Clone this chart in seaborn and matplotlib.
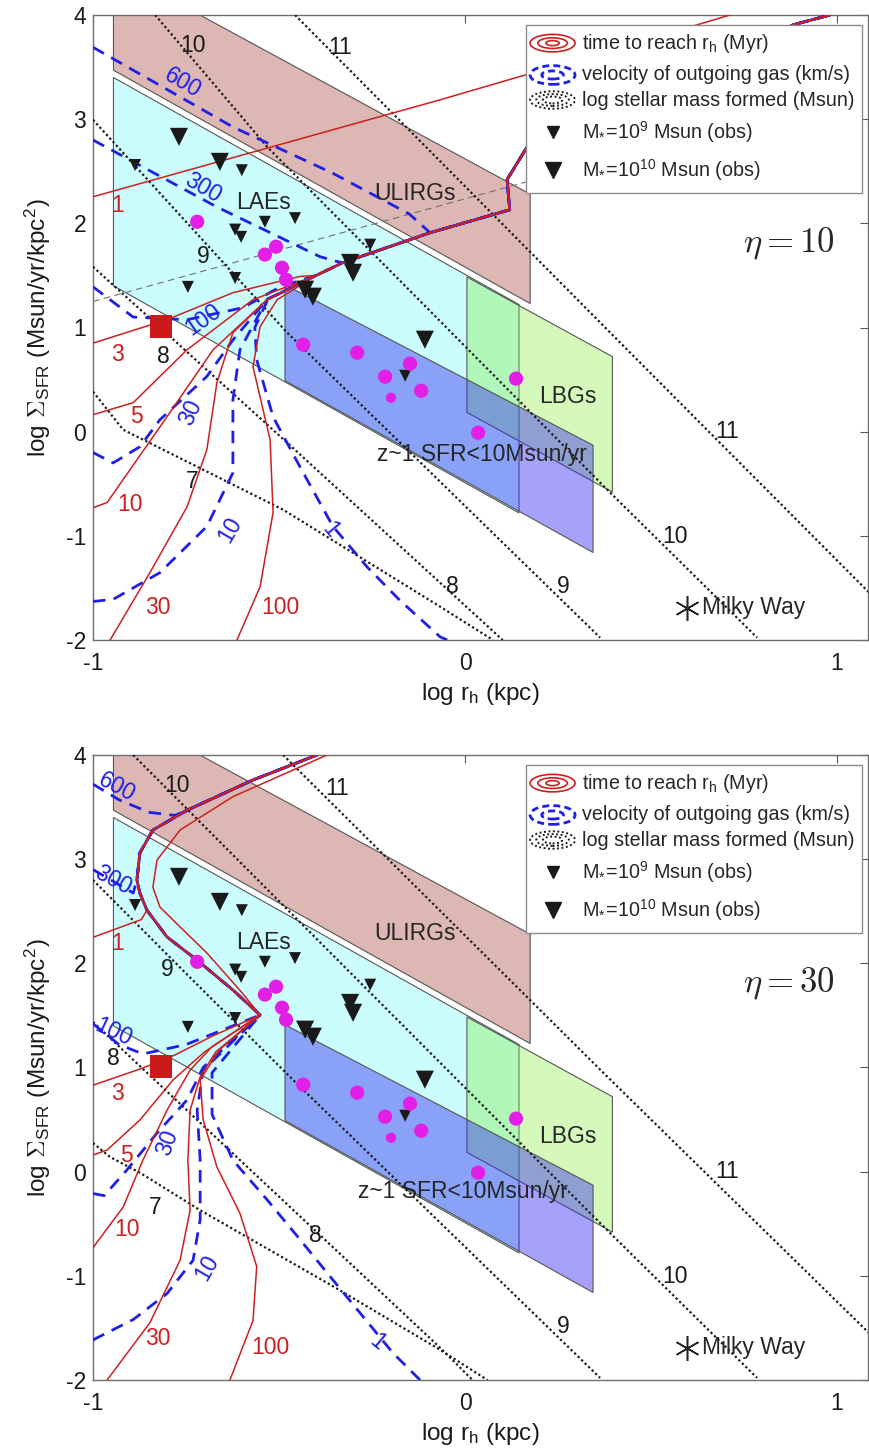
import matplotlib
matplotlib.use("Agg")
import matplotlib.pyplot as plt
from matplotlib.patches import Polygon, Rectangle, Ellipse
import seaborn as sns

RED = "#cc2020"
BLUE = "#1f1fe6"
MAG = "#e31ee6"

# ---- shaded regions (corners) ----
ulirg_x = [-0.945, 0.175, 0.175, -0.945]
ulirg_y = [3.47, 1.23, 2.28, 4.45]
lae_x = [-0.945, 0.145, 0.145, -0.945]
lae_y = [1.40, -0.78, 1.22, 3.40]
lbg_x = [0.005, 0.396, 0.396, 0.005]
lbg_y = [0.185, -0.58, 0.72, 1.485]
z1_x = [-0.484, 0.344, 0.344, -0.484]
z1_y = [0.49, -1.16, -0.13, 1.41]

# ---- observed galaxies ----
tri_small_x = [-0.887, -0.600, -0.745, -0.618, -0.538, -0.457, -0.618, -0.602, -0.255, -0.161]
tri_small_y = [2.56, 2.51, 1.39, 1.475, 2.015, 2.05, 1.94, 1.87, 1.795, 0.537]
tri_big_x = [-0.769, -0.659, -0.309, -0.301, -0.430, -0.409, -0.108]
tri_big_y = [2.83, 2.59, 1.62, 1.525, 1.363, 1.296, 0.883]
dots_x = [-0.720, -0.538, -0.508, -0.492, -0.481, -0.435, -0.290, -0.148, -0.215, -0.118, 0.137, 0.035]
dots_y = [2.015, 1.700, 1.776, 1.574, 1.459, 0.835, 0.758, 0.653, 0.528, 0.393, 0.509, -0.010]
dots_small_x = [-0.199]
dots_small_y = [0.326]
square_x, square_y = [-0.818], [1.01]
milky_x, milky_y = [0.597], [-1.69]

# ---- eta = 10 panel: curves (points, index where they join the shared bundle) ----
top_bundle = [(-0.40, 1.50), (-0.33, 1.62), (-0.094, 1.91), (0.12, 2.13), (0.113, 2.42),
              (0.167, 2.735), (0.52, 3.33), (0.882, 3.906), (0.981, 4.0)]
top_t1 = [(-1.0, 2.255), (-0.067, 3.186), (0.624, 3.906), (0.712, 4.0)]
top_t3 = [(-1.0, 0.85), (-0.801, 1.075), (-0.624, 1.334), (-0.444, 1.49)]
top_t5 = [(-1.0, 0.163), (-0.892, 0.278), (-0.747, 0.787), (-0.57, 1.267)]
top_t10 = [(-1.0, -0.73), (-0.962, -0.68), (-0.801, 0.144), (-0.677, 0.787), (-0.532, 1.267)]
top_t30 = [(-0.954, -2.0), (-0.847, -1.353), (-0.747, -0.72), (-0.694, -0.173), (-0.667, 0.47),
           (-0.624, 0.95), (-0.532, 1.267)]
top_t100 = [(-0.613, -2.0), (-0.551, -1.49), (-0.516, -0.777), (-0.524, -0.077), (-0.57, 0.624),
            (-0.551, 1.007), (-0.505, 1.267)]
top_v600 = [(-1.0, 3.69), (-0.624, 2.925), (-0.355, 2.48), (-0.15, 2.09)]
top_v300 = [(-1.0, 2.80), (-0.667, 2.157), (-0.39, 1.68)]
top_v100 = [(-1.0, 1.39), (-0.892, 1.10), (-0.747, 1.075), (-0.597, 1.19), (-0.497, 1.39)]
top_v30 = [(-1.0, -0.20), (-0.946, -0.30), (-0.874, -0.145), (-0.82, 0.115), (-0.694, 0.53),
           (-0.624, 0.88), (-0.532, 1.27)]
top_v10 = [(-1.0, -1.63), (-0.946, -1.61), (-0.82, -1.353), (-0.694, -0.91), (-0.624, -0.395),
           (-0.624, 0.307), (-0.605, 0.787), (-0.532, 1.27)]
top_v1 = [(-0.048, -2.0), (-0.067, -1.97), (-0.175, -1.62), (-0.263, -1.30), (-0.355, -0.91),
          (-0.444, -0.336), (-0.516, 0.142), (-0.56, 0.69), (-0.565, 1.0), (-0.53, 1.27)]
top_m7 = [(-1.0, 0.384), (-0.919, 0.019), (-0.489, -0.749), (-0.067, -1.68), (0.075, -2.0)]
top_m8 = [(-1.0, 1.583), (-0.478, -0.106), (0.101, -2.0)]
top_m9 = [(-1.0, 2.994), (-0.478, 0.95), (0.363, -1.977)]
top_m10 = [(-0.833, 4.0), (-0.532, 2.735), (0.39, -0.585), (0.785, -1.977)]
top_m11 = [(-0.457, 4.0), (0.409, 0.883), (1.086, -1.545)]
top_grey = [(-1.0, 1.25), (0.167, 2.40)]

top_time_labels = [(-0.935, 2.17, "1"), (-0.933, 0.74, "3"), (-0.882, 0.144, "5"),
                   (-0.90, -0.70, "10"), (-0.825, -1.69, "30"), (-0.497, -1.69, "100")]
top_vel_labels = [(-0.758, 3.35, "600", -30), (-0.704, 2.34, "300", -30), (-0.704, 1.075, "100", 35),
                  (-0.739, 0.18, "30", 65), (-0.632, -0.94, "10", 60), (-0.363, -0.94, "1", -50)]
top_mass_labels = [(-0.731, 3.71, "10"), (-0.336, 3.69, "11"), (-0.704, 1.68, "9"), (-0.812, 0.72, "8"),
                   (-0.734, -0.48, "7"), (-0.035, -1.49, "8"), (0.263, -1.49, "9"),
                   (0.565, -1.01, "10"), (0.704, 0.0, "11")]

# ---- eta = 30 panel ----
bot_bundle = [(-0.551, 1.504), (-0.624, 1.744), (-0.72, 2.03), (-0.801, 2.253), (-0.855, 2.51),
              (-0.874, 2.675), (-0.882, 2.80), (-0.874, 3.06), (-0.839, 3.28), (-0.747, 3.47),
              (-0.57, 3.76), (-0.398, 4.0)]
bot_t1 = [(-1.0, 2.25), (-0.87, 2.42)]
bot_t3 = [(-1.0, 0.83), (-0.866, 0.995), (-0.78, 1.12), (-0.68, 1.30)]
bot_t5 = [(-1.0, 0.16), (-0.962, 0.208), (-0.874, 0.496), (-0.785, 0.88), (-0.70, 1.15)]
bot_t10 = [(-1.0, -0.73), (-0.919, -0.34), (-0.866, 0.11), (-0.801, 0.59), (-0.739, 0.975), (-0.68, 1.2)]
bot_t30 = [(-0.962, -2.0), (-0.847, -1.45), (-0.766, -0.85), (-0.739, -0.37), (-0.745, 0.11),
           (-0.739, 0.59), (-0.712, 0.91), (-0.67, 1.15)]
bot_t100 = [(-0.632, -2.0), (-0.57, -1.43), (-0.56, -0.91), (-0.605, -0.40), (-0.667, 0.045),
            (-0.704, 0.50), (-0.712, 0.88), (-0.66, 1.17), (-0.551, 1.504), (-0.60, 1.72),
            (-0.694, 2.10), (-0.766, 2.35), (-0.82, 2.54), (-0.839, 2.73), (-0.828, 2.99),
            (-0.766, 3.28), (-0.624, 3.60), (-0.371, 4.0)]
bot_v600 = [(-1.0, 3.72), (-0.93, 3.57), (-0.85, 3.45), (-0.78, 3.42)]
bot_v300 = [(-1.0, 2.90), (-0.892, 2.675)]
bot_v100 = [(-1.0, 1.42), (-0.93, 1.22), (-0.866, 1.13), (-0.75, 1.22)]
bot_v30 = [(-1.0, -0.21), (-0.97, -0.23), (-0.909, 0.016), (-0.828, 0.37), (-0.747, 0.69), (-0.704, 1.0)]
bot_v10 = [(-1.0, -1.615), (-0.892, -1.42), (-0.801, -1.17), (-0.731, -0.85), (-0.712, -0.46),
           (-0.712, 0.11), (-0.72, 0.59), (-0.704, 0.975)]
bot_v1 = [(-0.121, -2.0), (-0.194, -1.74), (-0.355, -1.04), (-0.444, -0.65), (-0.532, -0.27),
          (-0.624, 0.11), (-0.68, 0.55), (-0.68, 0.95)]
bot_m7 = [(-1.0, 0.275), (-0.954, 0.14), (-0.874, -0.01), (-0.712, -0.37), (-0.355, -1.10),
          (-0.067, -1.71), (0.06, -2.0)]
bot_m8 = [(-1.0, 1.437), (-0.712, 0.47), (-0.067, -1.69), (0.02, -2.0)]
bot_m9 = [(-1.0, 2.80), (-0.766, 1.96), (-0.462, 0.88), (0.363, -1.98)]
bot_m10 = [(-0.892, 4.0), (0.39, -0.59), (0.785, -1.98)]
bot_m11 = [(-0.489, 4.0), (0.38, 0.92), (1.086, -1.55)]

bot_time_labels = [(-0.933, 2.19, "1"), (-0.933, 0.755, "3"), (-0.909, 0.16, "5"),
                   (-0.909, -0.56, "10"), (-0.825, -1.60, "30"), (-0.524, -1.69, "100")]
bot_vel_labels = [(-0.935, 3.69, "600", -28), (-0.946, 2.80, "300", -28), (-0.946, 1.34, "100", -25),
                  (-0.801, 0.275, "30", 70), (-0.694, -0.92, "10", 60), (-0.237, -1.64, "1", -40)]
bot_mass_labels = [(-0.774, 3.71, "10"), (-0.344, 3.68, "11"), (-0.801, 1.94, "9"), (-0.946, 1.09, "8"),
                   (-0.833, -0.34, "7"), (-0.403, -0.61, "8"), (0.263, -1.49, "9"),
                   (0.565, -1.01, "10"), (0.704, 0.0, "11")]

FS_LAB = 16.5     # contour and region labels
FS_KEY = 14.2     # legend text
FS_TICK = 16.5
FS_AXIS = 17.5


def xy(points, bundle=None, join=None):
    pts = list(points)
    if join is not None:
        pts += bundle[join:]
    return [p[0] for p in pts], [p[1] for p in pts]


def draw_key(ax):
    tr = ax.transAxes
    ax.add_patch(Rectangle((0.559, 0.715), 0.433, 0.269, transform=tr, facecolor="white",
                           edgecolor="#8c8c8c", lw=1.0, zorder=20))
    cx = 0.593
    for w, h in [(0.058, 0.028), (0.038, 0.017), (0.017, 0.008)]:
        ax.add_patch(Ellipse((cx, 0.955), w, h, transform=tr, fill=False, edgecolor=RED, lw=1.2, zorder=21))
    for w, h in [(0.058, 0.03), (0.028, 0.013)]:
        ax.add_patch(Ellipse((cx, 0.904), w, h, transform=tr, fill=False, edgecolor=BLUE, lw=2,
                             linestyle=(0, (2.5, 1.5)), zorder=21))
    for w, h in [(0.058, 0.028), (0.042, 0.019), (0.025, 0.011)]:
        ax.add_patch(Ellipse((cx, 0.864), w, h, transform=tr, fill=False, edgecolor="k", lw=1.4,
                             linestyle=(0, (1, 1.3)), zorder=21))
    ax.plot([cx], [0.813], marker="v", ms=8, color="k", transform=tr, zorder=21, clip_on=False)
    ax.plot([cx], [0.752], marker="v", ms=12, color="k", transform=tr, zorder=21, clip_on=False)
    labels = [(0.955, r"time to reach $\mathregular{r_h}$ (Myr)"),
              (0.904, "velocity of outgoing gas (km/s)"),
              (0.864, "log stellar mass formed (Msun)"),
              (0.813, r"$\mathregular{M_{*}\!=\!10^{9}}$ Msun (obs)"),
              (0.752, r"$\mathregular{M_{*}\!=\!10^{10}}$ Msun (obs)")]
    for yy, t in labels:
        ax.text(0.631, yy, t, transform=tr, fontsize=FS_KEY, va="center", ha="left", zorder=22)


def draw_panel(ax, bundle, time_curves, vel_curves, mass_lines, grey, time_lab, vel_lab,
               mass_lab, z1_pos, eta):
    # regions
    ax.add_patch(Polygon(list(zip(ulirg_x, ulirg_y)), closed=True, facecolor="#dcb7b3",
                         edgecolor="#555555", lw=0.8, zorder=1))
    ax.add_patch(Polygon(list(zip(lae_x, lae_y)), closed=True, facecolor="#ccfdfd",
                         edgecolor="#555555", lw=0.8, zorder=1))
    ax.add_patch(Polygon(list(zip(lbg_x, lbg_y)), closed=True, facecolor=(0.5, 0.93, 0.2, 0.33),
                         edgecolor="#555555", lw=0.8, zorder=2))
    ax.add_patch(Polygon(list(zip(z1_x, z1_y)), closed=True, facecolor=(0.2, 0.16, 0.95, 0.43),
                         edgecolor="#555555", lw=0.8, zorder=3))

    if grey is not None:
        gx, gy = xy(grey)
        ax.plot(gx, gy, color="#707070", lw=0.8, ls=(0, (6, 4)), zorder=4)

    for pts in mass_lines:
        mx, my = xy(pts)
        ax.plot(mx, my, color="k", lw=1.6, ls=(0, (1, 1.2)), zorder=5)
    for pts, j in vel_curves:
        vx, vy = xy(pts, bundle, j)
        ax.plot(vx, vy, color=BLUE, lw=2.0, ls=(0, (4.5, 3)), zorder=6)
    for pts, j in time_curves:
        tx, ty = xy(pts, bundle, j)
        ax.plot(tx, ty, color=RED, lw=1.1, zorder=7)

    for x, y, t in time_lab:
        ax.text(x, y, t, color=RED, fontsize=FS_LAB, ha="center", va="center", zorder=8)
    for x, y, t, r in vel_lab:
        ax.text(x, y, t, color=BLUE, fontsize=FS_LAB, ha="center", va="center", rotation=r, zorder=8)
    for x, y, t in mass_lab:
        ax.text(x, y, t, color="k", fontsize=FS_LAB, ha="center", va="center", zorder=8)

    ax.text(-0.134, 2.29, "ULIRGs", fontsize=FS_LAB, ha="center", va="center", zorder=8)
    ax.text(-0.543, 2.20, "LAEs", fontsize=FS_LAB, ha="center", va="center", zorder=8)
    ax.text(0.277, 0.336, "LBGs", fontsize=FS_LAB, ha="center", va="center", zorder=8)
    ax.text(z1_pos[0], z1_pos[1], "z~1 SFR<10Msun/yr", fontsize=FS_LAB, ha="center", va="center", zorder=8)

    # observations
    sns.scatterplot(x=tri_small_x, y=tri_small_y, marker="v", s=75, color="k", edgecolor="none",
                    ax=ax, zorder=10, legend=False)
    sns.scatterplot(x=tri_big_x, y=tri_big_y, marker="v", s=170, color="k", edgecolor="none",
                    ax=ax, zorder=10, legend=False)
    sns.scatterplot(x=dots_x, y=dots_y, marker="o", s=105, color=MAG, edgecolor="none",
                    ax=ax, zorder=10, legend=False)
    sns.scatterplot(x=dots_small_x, y=dots_small_y, marker="o", s=55, color=MAG, edgecolor="none",
                    ax=ax, zorder=10, legend=False)
    sns.scatterplot(x=square_x, y=square_y, marker="s", s=260, color="#cc1a1a", edgecolor="none",
                    ax=ax, zorder=10, legend=False)
    ax.plot(milky_x, milky_y, marker=(6, 2, 0), ms=18, mew=1.1, color="#222222", ls="none", zorder=10)
    ax.text(0.637, -1.69, "Milky Way", fontsize=FS_LAB, ha="left", va="center", zorder=10)

    ax.text(0.898, 0.635, eta, transform=ax.transAxes, fontsize=25, ha="center", va="center")
    draw_key(ax)

    ax.set_xlim(-1, 1.083)
    ax.set_ylim(-2, 4)
    ax.set_xticks([-1, 0, 1])
    ax.set_yticks([-2, -1, 0, 1, 2, 3, 4])
    ax.tick_params(direction="in", top=True, right=True, length=6, width=0.8, color="#555555",
                   labelsize=FS_TICK, labelcolor="#1a1a1a")
    ax.tick_params(axis="x", pad=9)
    ax.tick_params(axis="y", pad=5)
    for s in ax.spines.values():
        s.set_color("#6e6e6e")
        s.set_linewidth(1.0)
        s.set_visible(True)
    ax.set_xlabel(r"log $\mathregular{r_h}$ (kpc)", fontsize=FS_AXIS, color="#1a1a1a")
    ax.set_ylabel(r"log $\Sigma_{\mathregular{SFR}}$ (Msun/yr/kpc$^{\mathregular{2}}$)", fontsize=FS_AXIS,
                  color="#1a1a1a")
    ax.xaxis.set_label_coords(0.5, -0.066)
    ax.yaxis.set_label_coords(-0.052, 0.5)
    ax.grid(False)


sns.set_theme(style="white")
plt.rcParams["font.family"] = ["Liberation Sans", "DejaVu Sans"]
plt.rcParams["mathtext.fontset"] = "cm"
plt.rcParams["axes.unicode_minus"] = False

fig = plt.figure(figsize=(8.69, 14.55), dpi=100, facecolor="white")
ax1 = fig.add_axes([93 / 869, 1 - 640 / 1455, 775 / 869, 625 / 1455])
ax2 = fig.add_axes([93 / 869, 1 - 1380 / 1455, 775 / 869, 625 / 1455])

draw_panel(ax1, top_bundle,
           [(top_t1, None), (top_t3, 0), (top_t5, 0), (top_t10, 0), (top_t30, 0), (top_t100, 0)],
           [(top_v600, 2), (top_v300, 1), (top_v100, 0), (top_v30, 0), (top_v10, 0), (top_v1, 0)],
           [top_m7, top_m8, top_m9, top_m10, top_m11], top_grey,
           top_time_labels, top_vel_labels, top_mass_labels, (0.046, -0.22), r"$\eta = 10$")

draw_panel(ax2, bot_bundle,
           [(bot_t1, 4), (bot_t3, 0), (bot_t5, 0), (bot_t10, 0), (bot_t30, 0), (bot_t100, None)],
           [(bot_v600, 9), (bot_v300, 6), (bot_v100, 0), (bot_v30, 0), (bot_v10, 0), (bot_v1, 0)],
           [bot_m7, bot_m8, bot_m9, bot_m10, bot_m11], None,
           bot_time_labels, bot_vel_labels, bot_mass_labels, (-0.005, -0.19), r"$\eta = 30$")

fig.savefig("out.png", dpi=100, facecolor="white")
plt.close(fig)
